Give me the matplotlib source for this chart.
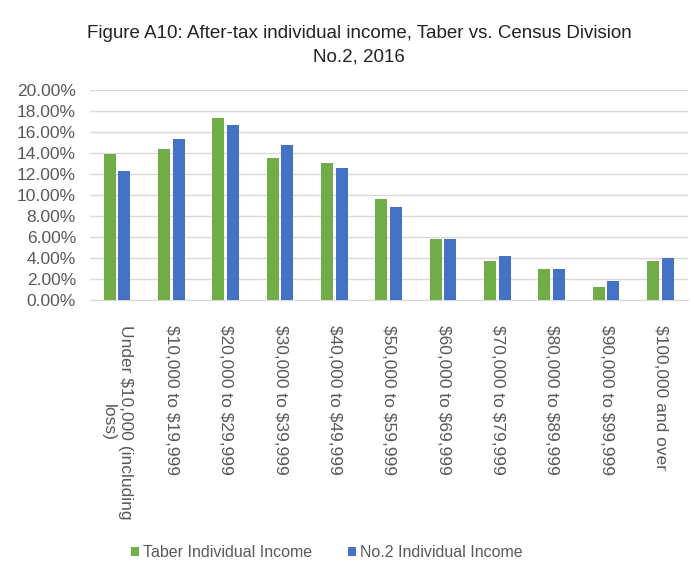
import numpy as np
import matplotlib.pyplot as plt
from matplotlib.ticker import PercentFormatter

plt.rcParams['font.family'] = ['Liberation Sans', 'DejaVu Sans']

categories = ['Under \\$10,000 (including\nloss)', '\\$10,000 to \\$19,999', '\\$20,000 to \\$29,999',
              '\\$30,000 to \\$39,999', '\\$40,000 to \\$49,999', '\\$50,000 to \\$59,999',
              '\\$60,000 to \\$69,999', '\\$70,000 to \\$79,999', '\\$80,000 to \\$89,999',
              '\\$90,000 to \\$99,999', '\\$100,000 and over']
taber = [13.9, 14.4, 17.3, 13.5, 13.1, 9.65, 5.84, 3.69, 2.95, 1.21, 3.74]
div2 = [12.3, 15.3, 16.7, 14.8, 12.6, 8.86, 5.84, 4.22, 2.95, 1.78, 3.97]

green = '#70AD47'
blue = '#4472C4'

fig = plt.figure(figsize=(6.91, 5.67), dpi=100)
ax = fig.add_axes([0.130, 0.471, 0.865, 0.370])

x = np.arange(len(categories))
w = 0.22
ax.bar(x - 0.135, taber, w, color=green, label='Taber Individual Income', zorder=3)
ax.bar(x + 0.135, div2, w, color=blue, label='No.2 Individual Income', zorder=3)

ax.set_xlim(-0.5, len(categories) - 0.5)
ax.set_ylim(0, 20)
ax.set_yticks(np.arange(0, 21, 2))
ax.yaxis.set_major_formatter(PercentFormatter(decimals=2))
ax.grid(axis='y', color='#d9d9d9', linewidth=1, zorder=0)
for s in ['top', 'right', 'left']:
    ax.spines[s].set_visible(False)
ax.spines['bottom'].set_color('#d9d9d9')
ax.tick_params(axis='both', length=0, colors='#595959', labelsize=12.5)
ax.tick_params(axis='y', pad=10)
ax.tick_params(axis='x', pad=18)
ax.set_xticks(x)
ax.set_xticklabels(categories, rotation=270, va='top', ha='center', fontsize=12.5)

fig.text(0.52, 0.92, 'Figure A10: After-tax individual income, Taber vs. Census Division\nNo.2, 2016',
         ha='center', va='center', fontsize=13.5, color='#222222', linespacing=1.45)

fig.legend(loc='center', bbox_to_anchor=(0.473, 0.026), ncol=2, frameon=False,
           fontsize=11.5, handlelength=0.5, handleheight=0.5, columnspacing=2.2,
           handletextpad=0.3, labelcolor='#595959')

fig.savefig('out.png')
